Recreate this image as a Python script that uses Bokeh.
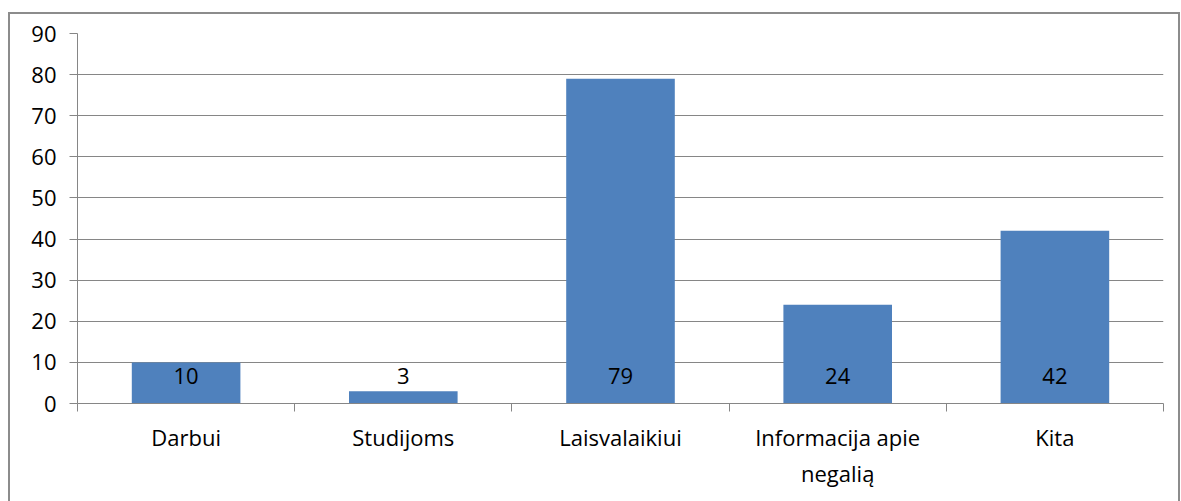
from bokeh.plotting import figure
from bokeh.models import Range1d, FixedTicker, ColumnDataSource, InlineStyleSheet
from bokeh.core.properties import value
from bokeh.embed import file_html
from bokeh.resources import INLINE

categories = ["Darbui", "Studijoms", "Laisvalaikiui", "Informacija apie\nnegalią", "Kita"]
values = [10, 3, 79, 24, 42]
y_ticks = [0, 10, 20, 30, 40, 50, 60, 70, 80, 90]

FONT = "Open Sans"
GREY = "#868686"
BAR = "#4F81BD"
FS = "22px"

n = len(categories)
xs = [i + 0.5 for i in range(n)]
src = ColumnDataSource(dict(x=xs, top=values, base=[0] * n, label=[str(v) for v in values]))

p = figure(width=1181, height=501, output_backend="svg", toolbar_location=None,
           x_range=Range1d(0, n), y_range=Range1d(0, 90),
           min_border_left=77, min_border_right=18, min_border_top=33, min_border_bottom=98)
p.outline_line_color = None
p.background_fill_color = "white"
p.border_fill_color = "white"

p.vbar(x="x", top="top", width=0.5, source=src, fill_color=BAR, line_color=None)
p.text(x="x", y="base", text="label", source=src, text_align="center", text_baseline="middle",
       y_offset=-28, text_font=value(FONT), text_font_size=FS, text_color="black")

# y axis
p.yaxis.ticker = FixedTicker(ticks=y_ticks)
p.yaxis.axis_line_color = GREY
p.yaxis.major_tick_line_color = GREY
p.yaxis.major_tick_out = 8
p.yaxis.major_tick_in = 0
p.yaxis.minor_tick_line_color = None
p.yaxis.major_label_standoff = 13
p.yaxis.major_label_text_font = FONT
p.yaxis.major_label_text_font_size = FS
p.yaxis.major_label_text_color = "black"

# x axis
p.xaxis.ticker = FixedTicker(ticks=xs, minor_ticks=list(range(n + 1)))
p.xaxis.major_label_overrides = {x: c for x, c in zip(xs, categories)}
p.xaxis.axis_line_color = GREY
p.xaxis.major_tick_line_color = None
p.xaxis.major_tick_out = 0
p.xaxis.major_tick_in = 0
p.xaxis.minor_tick_line_color = GREY
p.xaxis.minor_tick_out = 8
p.xaxis.minor_tick_in = 0
p.xaxis.major_label_standoff = 10
p.xaxis.major_label_text_font = FONT
p.xaxis.major_label_text_font_size = FS
p.xaxis.major_label_text_color = "black"

p.xgrid.grid_line_color = None
p.ygrid.grid_line_color = GREY
p.ygrid.grid_line_width = 1

# outer chart border
p.stylesheets = [InlineStyleSheet(css="""
:host { position: relative; }
:host::after {
  content: ""; position: absolute; left: 8px; top: 12px; width: 1172px; height: 520px;
  border: 2px solid #8c8c8c; box-sizing: border-box; pointer-events: none; z-index: 100;
}
""")]

open("out.html", "w").write(file_html(p, INLINE))
